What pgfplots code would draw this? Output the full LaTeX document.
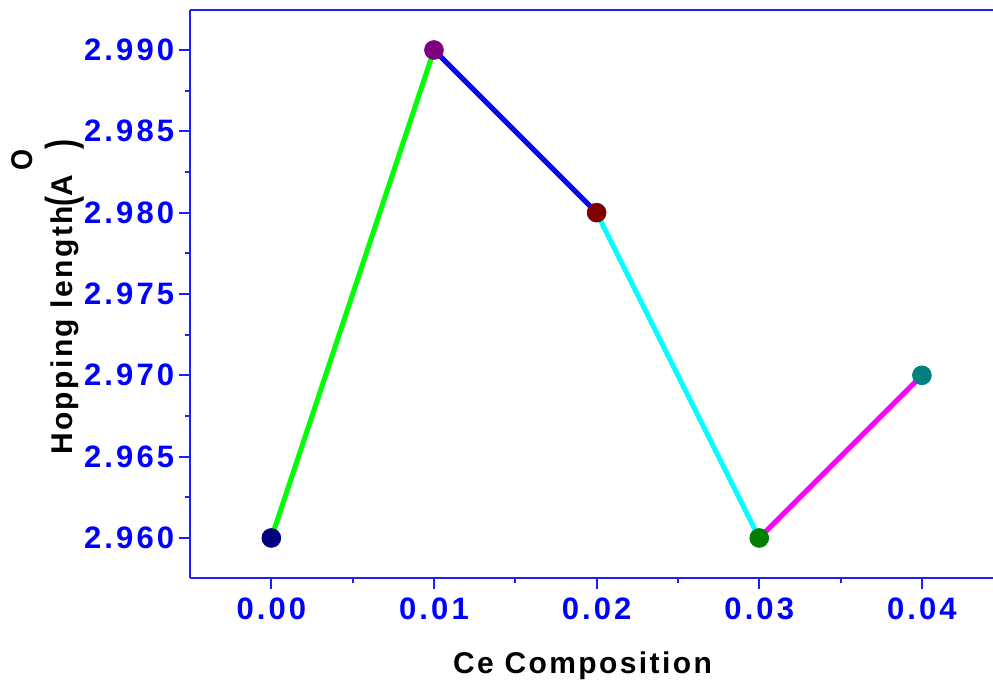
\documentclass[border=0pt]{standalone}
\usepackage{pgfplots}
\pgfplotsset{compat=1.18}
\usepackage{fontspec}
\usepackage{graphicx}
\setmainfont{Liberation Sans}
\newfontfamily\labfont[LetterSpace=8]{Liberation Sans}
\newfontfamily\tickfont[LetterSpace=10]{Liberation Sans}
\definecolor{axblue}{RGB}{30,30,255}
\definecolor{navyc}{RGB}{0,0,128}
\definecolor{purpc}{RGB}{128,0,128}
\definecolor{maroonc}{RGB}{128,0,0}
\definecolor{dgreenc}{RGB}{0,128,0}
\definecolor{tealc}{RGB}{0,128,128}
\definecolor{lgreen}{RGB}{0,255,0}
\definecolor{lblue}{RGB}{0,0,255}
\definecolor{lcyan}{RGB}{0,255,255}
\definecolor{lmag}{RGB}{255,0,255}
\begin{document}
\begin{tikzpicture}
\useasboundingbox (-95pt,-53pt) rectangle (401.5pt,289pt);
\begin{axis}[
  at={(0,0)}, anchor=south west,
  scale only axis, width=401.5pt, height=284pt,
  xmin=-0.005, xmax=0.04437, ymin=2.95754, ymax=2.99246,
  axis x line*=box, axis y line*=left,
  xtick pos=left, ytick pos=left,
  xtick={0,0.01,0.02,0.03,0.04},
  ytick={2.96,2.965,2.97,2.975,2.98,2.985,2.99},
  minor x tick num=1, minor y tick num=1,
  scaled x ticks=false, scaled y ticks=false,
  xticklabel style={yshift=-1pt, /pgf/number format/.cd, fixed, fixed zerofill, precision=2},
  yticklabel style={xshift=1pt, /pgf/number format/.cd, fixed, fixed zerofill, precision=3},
  /pgf/number format/assume math mode=true,
  tick label style={font=\tickfont\bfseries\fontsize{15.5}{18}\selectfont, text=lblue},
  tick align=outside,
  major tick length=5.4pt, minor tick length=2.7pt,
  every tick/.style={axblue, line width=1pt},
  axis line style={axblue, line width=1pt},
  xlabel={\labfont\bfseries Ce Composition},
  xlabel style={at={(axis description cs:0.3188,-0.1673)}, anchor=base west, font=\fontsize{15}{18}\selectfont},
  ylabel={\labfont\bfseries Hopping length\raisebox{-1.5pt}{\scalebox{1}[1.4]{(}}A\hspace{2pt}\raisebox{20pt}{\scalebox{0.9}[1]{O}}\raisebox{-1.5pt}{\scalebox{1}[1.4]{)}}},
  ylabel style={at={(axis description cs:-0.1457,0.2042)}, anchor=base west, font=\fontsize{15}{18}\selectfont},
  clip=false,
]
\addplot[lgreen, line width=2.5pt] coordinates {(0,2.96) (0.01,2.99)};
\addplot[lblue, line width=2.5pt] coordinates {(0.01,2.99) (0.02,2.98)};
\addplot[lcyan, line width=2.5pt] coordinates {(0.02,2.98) (0.03,2.96)};
\addplot[lmag, line width=2.5pt] coordinates {(0.03,2.96) (0.04,2.97)};
\addplot[navyc, only marks, mark=*, mark size=4.7pt, mark options={fill=navyc, draw=none}] coordinates {(0,2.96)};
\addplot[purpc, only marks, mark=*, mark size=4.7pt, mark options={fill=purpc, draw=none}] coordinates {(0.01,2.99)};
\addplot[maroonc, only marks, mark=*, mark size=4.7pt, mark options={fill=maroonc, draw=none}] coordinates {(0.02,2.98)};
\addplot[dgreenc, only marks, mark=*, mark size=4.7pt, mark options={fill=dgreenc, draw=none}] coordinates {(0.03,2.96)};
\addplot[tealc, only marks, mark=*, mark size=4.7pt, mark options={fill=tealc, draw=none}] coordinates {(0.04,2.97)};
\end{axis}
\end{tikzpicture}
\end{document}
